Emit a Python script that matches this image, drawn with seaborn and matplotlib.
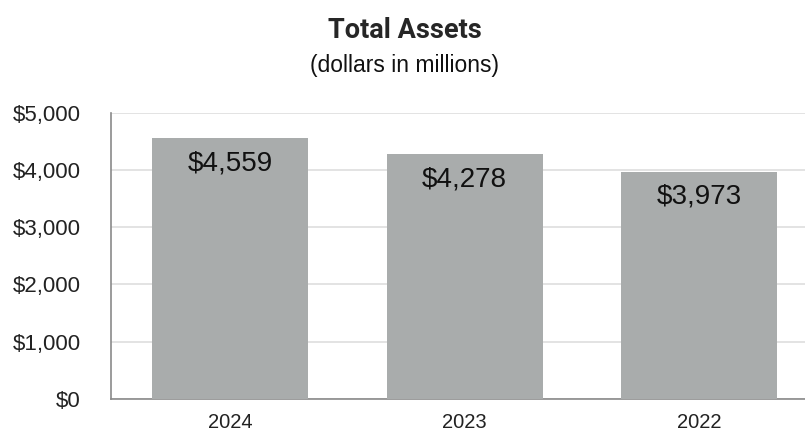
import pandas as pd
import seaborn as sns
import matplotlib.pyplot as plt

years = ['2024', '2023', '2022']
assets = [4559, 4278, 3973]
yticks = [0, 1000, 2000, 3000, 4000, 5000]

df = pd.DataFrame({'year': years, 'assets': assets})

sns.set_style('white')
plt.rcParams['font.family'] = ['Liberation Sans', 'DejaVu Sans']

fig = plt.figure(figsize=(8.05, 4.34), dpi=100)
ax = fig.add_axes([0.138, 0.081, 0.862, 0.659])

sns.barplot(data=df, x='year', y='assets', color='#a9acac', saturation=1,
            width=0.664, linewidth=0, ax=ax, zorder=3)

ax.set_ylim(0, 5000)
ax.set_xlim(-0.506, 2.45)
ax.set_yticks(yticks)
ax.set_yticklabels([f'${v:,}' for v in yticks])
ax.yaxis.grid(True, color='#dedede', linewidth=1.2, zorder=0)
ax.set_axisbelow(True)
ax.tick_params(axis='both', length=0, colors='#222222')
ax.tick_params(axis='y', pad=22, labelsize=16)
ax.tick_params(axis='x', pad=10, labelsize=14.5)
ax.set_xlabel('')
ax.set_ylabel('')

for s in ['top', 'right']:
    ax.spines[s].set_visible(False)
for s in ['left', 'bottom']:
    ax.spines[s].set_color('#8a8a8a')
    ax.spines[s].set_linewidth(1.2)

# value labels inside the bars, near the top
for i, v in enumerate(assets):
    ax.annotate(f'${v:,}', (i, v), xytext=(0, -18), textcoords='offset points',
                ha='center', va='center', fontsize=20, color='#111111', zorder=4)

fig.text(0.503, 0.93, 'Total Assets', ha='center', va='center',
         fontsize=19.5, fontweight='bold', family=['Roboto', 'DejaVu Sans'])
fig.text(0.503, 0.85, '(dollars in millions)', ha='center', va='center',
         fontsize=16.5, color='#111111')

plt.savefig('out.png', dpi=100)
